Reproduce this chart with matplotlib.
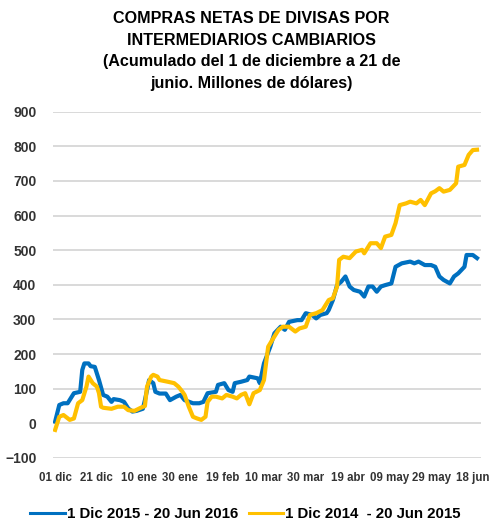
import matplotlib
matplotlib.use("Agg")
import matplotlib.pyplot as plt
from matplotlib.lines import Line2D

# days since 1 Dec
blue_days = [0, 2, 4, 6, 9, 12, 13, 14, 16, 17, 19, 21, 23, 25, 27, 28, 31, 33, 35, 37,
             39, 42, 43, 45, 47, 48, 50, 53, 55, 58, 60, 62, 66, 69, 71, 73, 77, 78, 81, 83,
             85, 86, 89, 92, 93, 97, 98, 100, 103, 105, 108, 110, 112, 116, 118, 120, 123,
             125, 127, 130, 131, 133, 135, 137, 139, 141, 143, 146, 148, 150, 152, 154, 156,
             158, 161, 163, 166, 170, 172, 174, 177, 180, 182, 184, 186, 189, 191, 193, 196,
             197, 200, 202]
blue_vals = [5, 53, 58, 58, 87, 91, 154, 173, 173, 165, 163, 125, 82, 77, 62, 70, 67, 62, 43, 34,
             36, 42, 67, 125, 116, 91, 86, 86, 67, 77, 82, 67, 58, 58, 62, 87, 91, 111, 116, 96,
             91, 116, 120, 125, 135, 130, 116, 173, 221, 260, 279, 270, 293, 298, 298, 318, 313,
             303, 313, 318, 327, 356, 399, 409, 424, 395, 385, 380, 366, 395, 395, 380, 395,
             399, 404, 452, 462, 467, 462, 467, 457, 457, 452, 424, 414, 404, 424, 433, 452,
             486, 486, 477]

yellow_days = [0, 2, 4, 7, 9, 11, 13, 15, 16, 18, 20, 21, 22, 23, 27, 30, 33, 35, 38, 41,
               43, 44, 46, 47, 49, 50, 54, 57, 59, 61, 62, 64, 66, 68, 70, 72, 73, 75, 77, 80,
               82, 85, 87, 89, 91, 93, 95, 98, 100, 102, 104, 107, 109, 112, 115, 117, 120, 122,
               125, 128, 131, 133, 135, 136, 138, 141, 144, 147, 148, 151, 154, 156, 158, 161,
               163, 165, 168, 170, 173, 175, 177, 180, 182, 184, 186, 189, 192, 193, 196, 198,
               200, 202]
yellow_vals = [-19, 19, 24, 10, 14, 58, 67, 106, 135, 116, 106, 87, 48, 45, 42, 48, 48, 38, 36, 45,
               50, 106, 135, 140, 135, 125, 120, 116, 106, 91, 82, 48, 19, 14, 10, 19, 62, 77, 77, 72,
               82, 77, 72, 82, 87, 55, 87, 96, 125, 221, 241, 270, 279, 279, 265, 274, 279, 313,
               318, 327, 356, 361, 395, 472, 481, 477, 496, 501, 491, 520, 520, 506, 539, 544,
               578, 630, 635, 640, 635, 645, 630, 664, 670, 679, 669, 674, 693, 741, 746, 775,
               789, 790]

tick_days = [0, 20, 40, 60, 80, 100, 120, 140, 160, 180, 200]
tick_labels = ["01 dic", "21 dic", "10 ene", "30 ene", "19 feb", "10 mar", "30 mar",
               "19 abr", "09 may", "29 may", "18 jun"]

BLUE = '#0070C0'
GOLD = '#FFC000'

plt.rcParams['font.family'] = ['Liberation Sans', 'DejaVu Sans']

fig = plt.figure(figsize=(4.91, 5.24), dpi=100)
ax = fig.add_axes([0.108, 0.126, 0.872, 0.661])

ax.plot(blue_days, blue_vals, color=BLUE, lw=3.0, solid_joinstyle='round', zorder=3)
ax.plot(yellow_days, yellow_vals, color=GOLD, lw=3.0, solid_joinstyle='round', zorder=3)

ax.set_ylim(-100, 900)
ax.set_yticks(range(-100, 901, 100))
ax.set_xlim(-1, 204)
ax.set_xticks(tick_days)
ax.set_xticklabels(tick_labels, fontsize=8.3, fontweight='bold', color='#333333')
ax.tick_params(axis='y', length=0, pad=12, labelsize=10, labelcolor='#333333')
ax.tick_params(axis='x', length=0, pad=10)
for lab in ax.get_yticklabels():
    lab.set_fontweight('bold')
ax.grid(axis='y', color='#D9D9D9', lw=1.4)
ax.set_axisbelow(True)
for s in ax.spines.values():
    s.set_visible(False)

fig.text(0.512, 0.979, "COMPRAS NETAS DE DIVISAS POR\nINTERMEDIARIOS CAMBIARIOS\n"
         "(Acumulado del 1 de diciembre a 21 de\njunio. Millones de dólares)",
         ha='center', va='top', fontsize=11.6, fontweight='bold', linespacing=1.55)

handles = [Line2D([], [], color=BLUE, lw=2.2), Line2D([], [], color=GOLD, lw=2.2)]
fig.legend(handles, ['1 Dic 2015 - 20 Jun 2016', '1 Dic 2014  - 20 Jun 2015'],
           loc='lower center', bbox_to_anchor=(0.5, -0.02), ncol=2, frameon=False,
           prop={'size': 10.8, 'weight': 'bold'}, handlelength=2.3, handletextpad=0.15,
           columnspacing=0.7)

fig.savefig("out.png", dpi=100)
